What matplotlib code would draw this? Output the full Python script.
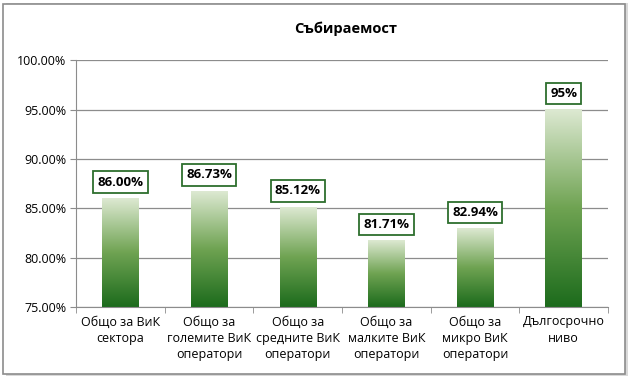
import numpy as np
import matplotlib.pyplot as plt
from matplotlib.patches import Rectangle
from matplotlib.colors import LinearSegmentedColormap

categories = [
    "Общо за ВиК\nсектора",
    "Общо за\nголемите ВиК\nоператори",
    "Общо за\nсредните ВиК\nоператори",
    "Общо за\nмалките ВиК\nоператори",
    "Общо за\nмикро ВиК\nоператори",
    "Дългосрочно\nниво",
]
values = [86.00, 86.73, 85.12, 81.71, 82.94, 95.0]
value_labels = ["86.00%", "86.73%", "85.12%", "81.71%", "82.94%", "95%"]
yticks = [75, 80, 85, 90, 95, 100]

plt.rcParams["font.family"] = ["Open Sans", "DejaVu Sans"]

fig = plt.figure(figsize=(6.3, 3.81), dpi=100)
ax = fig.add_axes([0.121, 0.194, 0.844, 0.648])

# chart frame with a soft shadow
fig.patches.append(Rectangle((0.009, 0.012), 0.988, 0.98, transform=fig.transFigure,
                             facecolor="#d9d9d9", edgecolor="none", zorder=-3))
fig.patches.append(Rectangle((0.005, 0.018), 0.987, 0.972, transform=fig.transFigure,
                             facecolor="white", edgecolor="#8c8c8c", lw=1.2, zorder=-2))

ymin, ymax = 75, 100
width = 0.41
cmap = LinearSegmentedColormap.from_list("g", ["#1c6b1c", "#6fa352", "#dde9d2"])
grad = np.linspace(0, 1, 256).reshape(-1, 1)

x = np.arange(len(categories))
for xi, v, lab in zip(x, values, value_labels):
    ax.imshow(grad, cmap=cmap, aspect="auto", origin="lower",
              extent=(xi - width / 2, xi + width / 2, ymin, v), zorder=2)
    ax.text(xi, v + 1.65, lab, ha="center", va="center", fontsize=9.5,
            fontweight="bold", zorder=4,
            bbox=dict(boxstyle="square,pad=0.32", facecolor="white",
                      edgecolor="#2d6e2d", lw=1.3))

ax.set_xlim(-0.5, len(categories) - 0.5)
ax.set_ylim(ymin, ymax)
ax.set_yticks(yticks)
ax.set_yticklabels([f"{t:.2f}%" for t in yticks], fontsize=9)
ax.yaxis.grid(True, color="#8c8c8c", lw=0.9)
ax.set_axisbelow(True)

ax.set_xticks(x)
ax.set_xticklabels(categories, fontsize=9, linespacing=1.35)
ax.set_xticks(np.arange(len(categories) + 1) - 0.5, minor=True)
ax.tick_params(axis="x", which="major", length=0, pad=6)
ax.tick_params(axis="x", which="minor", length=4, color="#8c8c8c", direction="out")
ax.tick_params(axis="y", length=4, color="#8c8c8c", pad=3)

for side in ["top", "right"]:
    ax.spines[side].set_visible(False)
ax.spines["left"].set_color("#8c8c8c")
ax.spines["bottom"].set_color("#8c8c8c")

fig.text(0.548, 0.925, "Събираемост", ha="center", va="center",
         fontsize=10.5, fontweight="bold")

fig.savefig("out.png", dpi=100)
